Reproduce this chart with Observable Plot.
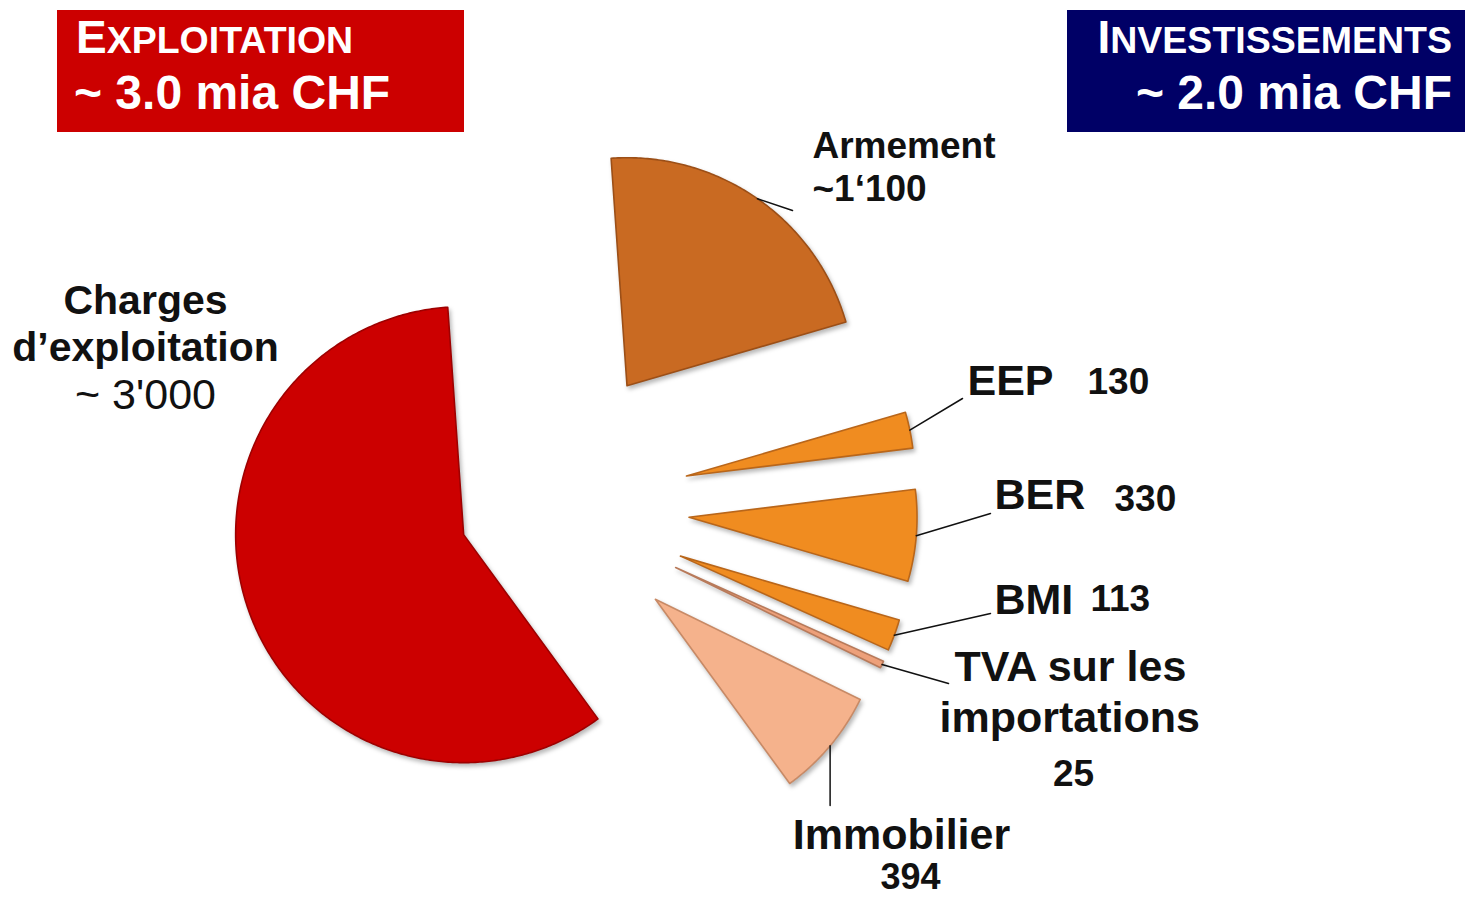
<!DOCTYPE html>
<html>
<head>
<meta charset="utf-8">
<script src="https://cdn.jsdelivr.net/npm/d3@7"></script>
<script src="https://cdn.jsdelivr.net/npm/@observablehq/plot@0.6"></script>
<style>
  html, body { margin: 0; padding: 0; background: #fff; }
  #wrap { position: relative; width: 1465px; height: 900px; overflow: hidden; font-family: Arial, "Liberation Sans", sans-serif; }
  .box { position: absolute; color: #fff; font-weight: bold; }
  .box .ln { position: absolute; white-space: nowrap; line-height: 1; }
  .slice path { filter: drop-shadow(2px 3px 2px rgba(0,0,0,0.28)); }
  svg text { font-family: Arial, "Liberation Sans", sans-serif; }
</style>
</head>
<body>
<div id="wrap"></div>
<script>
// ---------------- DATA ----------------
const categories = ["Armement", "EEP", "BER", "BMI", "TVA sur les importations", "Immobilier", "Charges d’exploitation"];
const values = [1100, 130, 330, 113, 25, 394, 3000];
const groups = ["inv", "inv", "inv", "inv", "inv", "inv", "exp"];
const valueLabels = ["~1‘100", "130", "330", "113", "25", "394", "~ 3'000"];
const headerTitles = ["Exploitation", "Investissements"];
const headerTotals = ["~ 3.0 mia CHF", "~ 2.0 mia CHF"];

// ---------------- STYLE / LAYOUT ----------------
const W = 1465, H = 900;
const CX = 543, CY = 505, R = 228;            // pie centre and radius (px)
const EXPLODE = {inv: 146, exp: 85};           // explode distance (px)
const ROTATION = -4 * Math.PI / 180;
const fills = ["#c96a22", "#f08c20", "#f08c20", "#f08c20", "#eda07a", "#f5b28c", "#cc0000"];
const edges = ["#9c4f17", "#b9661a", "#b9661a", "#b9661a", "#b87a5a", "#c88a66", "#9e0000"];
// label layout in px: [slice, text, x, y, anchor, size, weight]
const labelLayout = [
  [0, "name", 812, 146, "start", 37, "bold"], [0, "value", 812, 189, "start", 37, "bold"],
  [1, "name", 967, 381, "start", 43, "bold"], [1, "value", 1087, 382, "start", 37, "bold"],
  [2, "name", 994, 495, "start", 43, "bold"], [2, "value", 1114, 499, "start", 37, "bold"],
  [3, "name", 994, 600, "start", 43, "bold"], [3, "value", 1090, 599, "start", 37, "bold"],
  [4, "TVA sur les", 954, 667, "start", 43, "bold"], [4, "importations", 939, 718, "start", 43, "bold"], [4, "value", 1073, 774, "middle", 37, "bold"],
  [5, "name", 901, 835, "middle", 43, "bold"], [5, "value", 910, 877, "middle", 36, "bold"],
  [6, "Charges", 145, 300, "middle", 41, "bold"], [6, "d’exploitation", 145, 347, "middle", 41, "bold"], [6, "value", 145, 395, "middle", 43, "normal"]
];
// leader line end points (px); null x = vertical drop
const leaderEnds = [[792, 210], [962, 398], [990, 513], [990, 613], [948, 683], [null, 805], null];

// ---------------- BUILD ----------------
const ux = px => (px - CX) / R;
const uy = py => (CY - py) / R;
const rows = categories.map((c, i) => ({name: c, value: values[i], group: groups[i], i}));
const arcs = d3.pie().sort(null).value(d => d.value)
  .startAngle(ROTATION).endAngle(ROTATION + 2 * Math.PI)(rows);

const marks = [];
const arcMid = [];
arcs.forEach((a, i) => {
  const mid = (a.startAngle + a.endAngle) / 2;
  const e = EXPLODE[a.data.group] / R;
  const ax = e * Math.sin(mid), ay = e * Math.cos(mid);
  const pts = [{x: ax, y: ay}];
  const n = Math.max(4, Math.ceil((a.endAngle - a.startAngle) / 0.01));
  for (let k = 0; k <= n; k++) {
    const t = a.startAngle + (a.endAngle - a.startAngle) * k / n;
    pts.push({x: ax + Math.sin(t), y: ay + Math.cos(t)});
  }
  pts.push({x: ax, y: ay});
  arcMid.push({x: ax + Math.sin(mid), y: ay + Math.cos(mid)});
  marks.push(Plot.line(pts, {x: "x", y: "y", fill: fills[i], stroke: edges[i], strokeWidth: 1.6, strokeLinejoin: "round", className: "slice"}));
});

// leader lines
leaderEnds.forEach((end, i) => {
  if (!end) return;
  const s = arcMid[i];
  const pts = [s, {x: end[0] == null ? s.x : ux(end[0]), y: uy(end[1])}];
  marks.push(Plot.line(pts, {x: "x", y: "y", stroke: "#111", strokeWidth: 1.5}));
});

// labels
labelLayout.forEach(([i, what, px, py, anchor, size, weight]) => {
  const txt = what === "name" ? categories[i] : what === "value" ? valueLabels[i] : what;
  marks.push(Plot.text([{x: ux(px), y: uy(py), t: txt}], {
    x: "x", y: "y", text: "t", textAnchor: anchor, fontSize: size, fontWeight: weight, fill: "#111"
  }));
});

const chart = Plot.plot({
  width: W, height: H, margin: 0,
  x: {domain: [ux(0), ux(W)], axis: null},
  y: {domain: [uy(H), uy(0)], axis: null},
  marks
});

const wrap = document.getElementById("wrap");
wrap.appendChild(chart);

// header boxes
function smallCaps(word, big, small) {
  return `<span style="font-size:${big}px">${word[0].toUpperCase()}</span><span style="font-size:${small}px">${word.slice(1).toUpperCase()}</span>`;
}
const boxes = [
  {bg: "#cc0000", left: 57, top: 10, width: 407, height: 122, align: "left", title: headerTitles[0], total: headerTotals[0]},
  {bg: "#000066", left: 1067, top: 10, width: 398, height: 122, align: "right", title: headerTitles[1], total: headerTotals[1]}
];
boxes.forEach(b => {
  const d = document.createElement("div");
  d.className = "box";
  Object.assign(d.style, {background: b.bg, left: b.left + "px", top: b.top + "px", width: b.width + "px", height: b.height + "px"});
  const l1 = document.createElement("div");
  l1.className = "ln";
  l1.innerHTML = smallCaps(b.title, 46, 37.5);
  const l2 = document.createElement("div");
  l2.className = "ln";
  l2.style.fontSize = "48px";
  l2.textContent = b.total;
  if (b.align === "left") {
    l1.style.left = "19px"; l2.style.left = "17px";
  } else {
    l1.style.right = "13px"; l2.style.right = "13px";
  }
  l1.style.top = "4px";
  l2.style.top = "59px";
  d.appendChild(l1); d.appendChild(l2);
  wrap.appendChild(d);
});
</script>
</body>
</html>
